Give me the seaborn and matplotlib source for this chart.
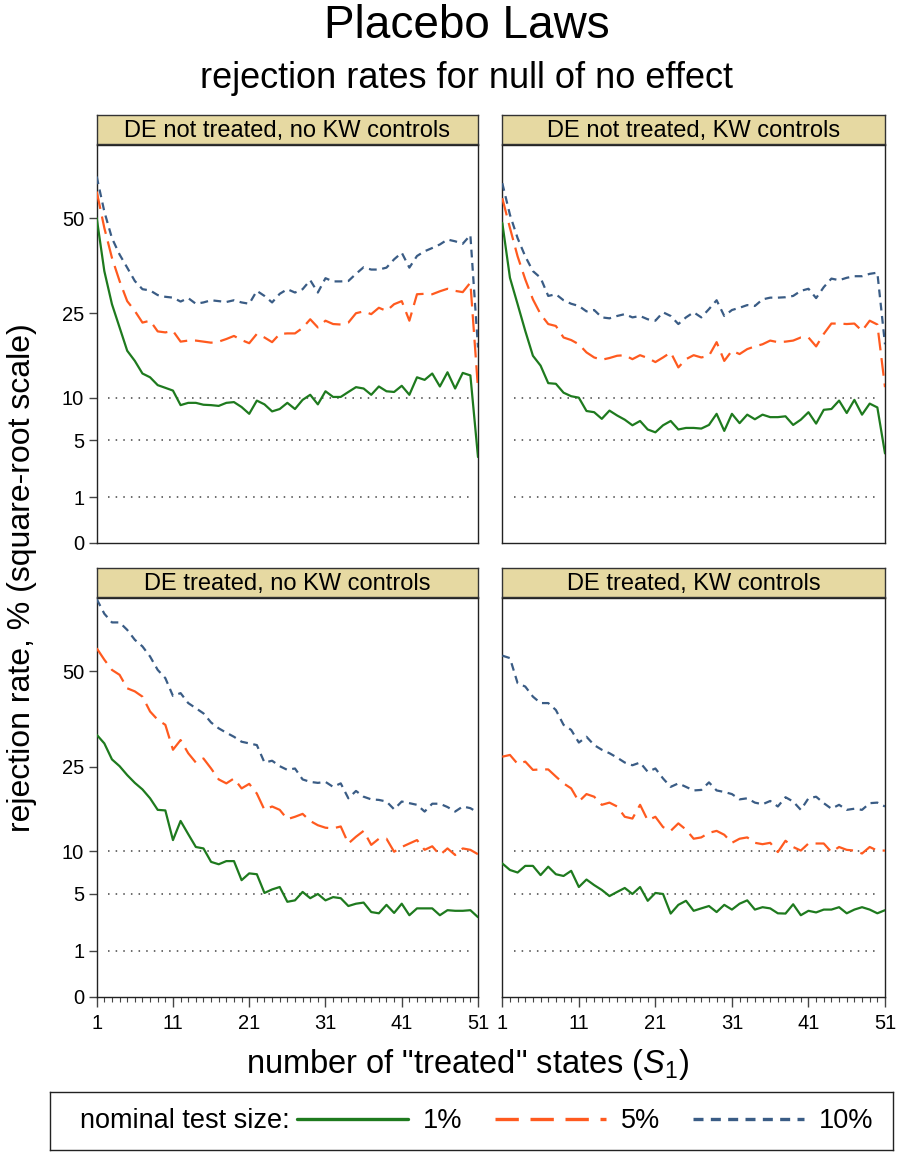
import numpy as np
import pandas as pd
import matplotlib
matplotlib.use("Agg")
import matplotlib.pyplot as plt
from matplotlib.lines import Line2D
import seaborn as sns

# ---------------- data ----------------
states = list(range(1, 52))
sizes = ["1%", "5%", "10%"]
panel_titles = ["DE not treated, no KW controls", "DE not treated, KW controls",
                "DE treated, no KW controls", "DE treated, KW controls"]
y_ticks = [0, 1, 5, 10, 25, 50]
x_ticks = [1, 11, 21, 31, 41, 51]
nominal_levels = [1, 5, 10]

nt_nokw_1 = [50, 35, 27, 22, 17.5, 15.7, 13.6, 13, 11.8, 11.4, 11, 9.0, 9.3, 9.3, 9.05, 9.0, 8.9, 9.3, 9.4, 8.75,
             7.9, 9.6, 9.1, 8.2, 8.5, 9.3, 8.5, 9.7, 10.4, 9.1, 10.9, 10.1, 10.1, 10.8, 11.5, 11.3, 10.4, 11.6, 10.9, 10.8,
             11.7, 10.4, 13.0, 12.6, 13.6, 11.6, 13.8, 11.3, 13.7, 13.3, 3.5]
nt_nokw_5 = [58.5, 47, 38.5, 32.5, 27.7, 25.5, 23, 23.4, 21.2, 21, 21.3, 19.2, 19.4, 19.4, 19.2, 19.0, 19.2, 19.7, 20.3, 19.5,
             18.9, 20.7, 20.0, 19.1, 20.7, 20.8, 20.8, 21.9, 23.7, 22, 23.4, 22.7, 22.6, 23, 25.0, 25.4, 24.8, 26.2, 25.5, 27.0,
             27.7, 23.4, 29.3, 29.4, 29.3, 30, 30.6, 30.1, 29.8, 32.1, 11.3]
nt_nokw_10 = [63.6, 52, 44, 39.4, 35.9, 32.5, 30.5, 30.2, 29.1, 28.7, 28.5, 27.6, 28.4, 27.1, 27.4, 27.9, 27.7, 27.5, 27.9, 27.4,
              27.1, 30.1, 28.9, 27.4, 29.4, 30.5, 29.7, 30.5, 32.7, 29.7, 33.2, 32.4, 32.4, 32.5, 34.3, 36.0, 35.4, 35.4, 35.9, 38.1,
              39.9, 35.9, 39.0, 40.3, 41.2, 42.2, 43.6, 43.1, 42.4, 44.9, 18.1]

nt_kw_1 = [48.5, 33.3, 27, 21.3, 16.6, 14.9, 12.1, 12.0, 10.7, 10.2, 10.0, 8.25, 8.1, 7.3, 8.3, 7.7, 7.2, 6.56, 7.05, 6.1,
           5.8, 6.56, 7.05, 6.1, 6.27, 6.27, 6.2, 6.6, 7.9, 5.95, 7.9, 6.8, 7.8, 7.25, 7.8, 7.5, 7.5, 7.6, 6.6, 7.2,
           8.1, 6.75, 8.4, 8.5, 9.6, 8.0, 9.7, 7.8, 9.2, 8.7, 3.8]
nt_kw_5 = [56.3, 47, 38.9, 32.9, 28.1, 24.8, 22.7, 22.3, 20.0, 19.5, 18.7, 17.2, 16.3, 15.9, 16.2, 16.6, 16.7, 16.0, 16.7, 16.2,
           15.5, 16.3, 17.2, 14.6, 16.0, 16.7, 16.3, 16.6, 19.1, 15.7, 17.5, 16.9, 17.8, 18.3, 18.7, 19.4, 19.1, 19.2, 19.4, 20.0,
           20.0, 18.3, 20.7, 22.8, 22.8, 22.7, 22.8, 21.3, 23.4, 22.6, 11.5]
nt_kw_10 = [61.3, 51, 44, 38.9, 35, 33.3, 28.9, 29.3, 27.9, 27.1, 26.6, 25.4, 25.7, 24.1, 23.9, 24.4, 24.8, 24.1, 24.4, 23.7,
            23.4, 25.2, 24.4, 22.7, 24.1, 25.2, 24.1, 25.9, 27.9, 24.4, 25.7, 26.2, 26.8, 26.6, 28.1, 28.5, 28.5, 28.6, 28.9, 30.1,
            30.6, 28.4, 31.0, 33.1, 32.7, 33.3, 33.7, 33.7, 34.3, 34.6, 18.7]

t_nokw_1 = [32.4, 30.3, 26.6, 25.1, 23.2, 21.6, 20.3, 18.6, 16.5, 16.4, 11.6, 14.6, 12.5, 10.6, 10.4, 8.6, 8.3, 8.7, 8.7, 6.43,
            7.2, 7.1, 5.1, 5.45, 5.7, 4.27, 4.4, 5.2, 4.6, 5.0, 4.4, 4.7, 4.6, 3.9, 4.1, 4.2, 3.4, 3.3, 4.0, 3.33,
            4.1, 3.15, 3.7, 3.7, 3.7, 3.15, 3.55, 3.5, 3.5, 3.55, 3.0]
t_nokw_5 = [57.3, 53.6, 50.4, 48.9, 44.9, 44, 42.5, 38.4, 36.2, 34.9, 28.8, 31.1, 28.0, 25.9, 26.8, 24.6, 22.3, 21.5, 22.5, 20.5,
            21.4, 19.5, 16.5, 17.1, 16.5, 14.9, 15.3, 15.8, 14.6, 13.9, 13.5, 13.4, 13.7, 11.1, 12.1, 13.0, 10.9, 11.8, 11.8, 9.94,
            10.6, 11.1, 11.6, 10.2, 10.7, 9.5, 10.4, 9.5, 10.4, 10.2, 9.6]
t_nokw_10 = [74.6, 69.2, 66.1, 66.1, 63.5, 60.1, 57.9, 54.6, 50.4, 47.9, 42.7, 43.5, 40.7, 39.3, 37.9, 35.5, 34.0, 32.9, 31.9, 30.7,
             30.3, 29.9, 25.9, 26.3, 25.1, 24.3, 24.6, 22.3, 21.8, 21.6, 21.8, 20.8, 21.5, 18.6, 20.0, 18.9, 18.4, 18.3, 18.0, 16.6,
             18.0, 17.7, 17.4, 16.2, 17.6, 17.6, 17.0, 16.2, 17.1, 16.8, 16.0]

t_kw_1 = [8.4, 7.6, 7.3, 8.1, 8.1, 7.0, 8.0, 7.1, 6.9, 7.5, 5.7, 6.5, 5.9, 5.4, 4.8, 5.2, 5.6, 5.0, 5.7, 4.36,
          5.1, 5.0, 3.28, 4.0, 4.36, 3.5, 3.7, 3.9, 3.4, 4.0, 3.6, 4.1, 4.4, 3.6, 3.8, 3.7, 3.3, 3.28, 4.05, 3.15,
          3.5, 3.37, 3.6, 3.6, 3.8, 3.3, 3.6, 3.8, 3.6, 3.3, 3.55]
t_kw_5 = [27.2, 27.6, 25.6, 26.1, 24.3, 24.4, 24.4, 22.9, 21.5, 20.5, 18.0, 19.4, 18.9, 17.4, 17.8, 17.1, 15.3, 15.0, 17.4, 14.7,
          15.3, 13.6, 13.0, 14.2, 13.2, 11.8, 12.0, 12.7, 13.0, 12.4, 11.2, 11.8, 12.0, 11.2, 11.0, 11.2, 9.9, 11.5, 10.6, 10.1,
          11.1, 11.1, 11.1, 9.9, 10.6, 10.2, 10.1, 9.7, 10.6, 10.1, 10.1]
t_kw_10 = [54.9, 54.1, 46.4, 45.4, 42.5, 40.7, 40.7, 38.8, 34.9, 33.6, 30.5, 31.9, 29.9, 28.8, 28.0, 27.0, 25.9, 25.3, 25.9, 23.9,
           24.6, 22.5, 20.8, 21.5, 20.8, 20.1, 20.2, 21.7, 20.1, 19.8, 19.4, 18.4, 18.6, 17.8, 17.5, 18.1, 17.1, 18.8, 18.0, 16.5,
           18.6, 18.9, 17.7, 16.7, 17.4, 16.5, 16.7, 16.5, 17.7, 17.8, 17.1]

panel_series = [
    (nt_nokw_1, nt_nokw_5, nt_nokw_10),
    (nt_kw_1, nt_kw_5, nt_kw_10),
    (t_nokw_1, t_nokw_5, t_nokw_10),
    (t_kw_1, t_kw_5, t_kw_10),
]

rows = []
for title, series in zip(panel_titles, panel_series):
    for size, vals in zip(sizes, series):
        for s, v in zip(states, vals):
            rows.append({"panel": title, "size": size, "states": s, "rate": v})
df = pd.DataFrame(rows)

# ---------------- style ----------------
sns.set_style("white")
plt.rcParams["font.family"] = ["Liberation Sans", "DejaVu Sans"]
plt.rcParams["mathtext.fontset"] = "custom"
plt.rcParams["mathtext.it"] = "Liberation Sans:italic"
plt.rcParams["mathtext.rm"] = "Liberation Sans"
plt.rcParams["text.color"] = "black"
plt.rcParams["xtick.color"] = "black"
plt.rcParams["ytick.color"] = "black"
plt.rcParams["axes.labelcolor"] = "black"

palette = {"1%": "#1E7A1E", "5%": "#FF5A1F", "10%": "#3A5C85"}
dashes = {"1%": "", "5%": (8, 3.5), "10%": (3.5, 2.5)}
strip_color = "#E6D9A2"

W, H = 898, 1153
fig = plt.figure(figsize=(W / 100, H / 100), dpi=100)

def fx(px):
    return px / W

def fy(py):
    return 1 - py / H

col_x = [(96.7, 478.0), (502.3, 885.0)]
row_y = [(145.0, 543.0), (598.0, 997.0)]
strip_h = 29.0

sqrt_fwd = lambda v: np.sqrt(np.clip(v, 0, None))
sqrt_inv = lambda v: np.asarray(v) ** 2

for i, title in enumerate(panel_titles):
    r, c = divmod(i, 2)
    x0, x1 = col_x[c]
    y0, y1 = row_y[r]
    ax = fig.add_axes([fx(x0), fy(y1), fx(x1) - fx(x0), (y1 - y0) / H])
    sub = df[df["panel"] == title]
    ax.set_yscale("function", functions=(sqrt_fwd, sqrt_inv))
    for lvl in nominal_levels:
        ax.axhline(lvl, xmin=0.03, xmax=0.985, color="#444444", lw=1.1,
                   ls=(0, (1, 4)), zorder=1)
    sns.lineplot(data=sub, x="states", y="rate", hue="size", style="size",
                 hue_order=sizes, style_order=sizes, palette=palette,
                 dashes=dashes, linewidth=1.6, ax=ax, legend=False, zorder=3)
    ax.set_xlim(1, 51)
    ax.set_ylim(0, 75)
    ax.set_xlabel("")
    ax.set_ylabel("")
    for sp in ax.spines.values():
        sp.set_visible(True)
        sp.set_color("#222222")
        sp.set_linewidth(1.0)
    ax.set_yticks(y_ticks)
    ax.set_xticks(x_ticks)
    ax.set_xticks(states, minor=True)
    if c == 0:
        ax.set_yticklabels([str(t) for t in y_ticks], fontsize=14.5)
        ax.tick_params(axis="y", which="major", left=True, length=6, width=1,
                       color="#444444", pad=3)
    else:
        ax.set_yticklabels([])
        ax.tick_params(axis="y", left=False)
    if r == 1:
        ax.set_xticklabels([str(t) for t in x_ticks], fontsize=14.5)
        ax.tick_params(axis="x", which="major", bottom=True, length=7, width=1,
                       color="#444444", pad=5)
        ax.tick_params(axis="x", which="minor", bottom=True, length=3.5, width=0.8,
                       color="#444444")
    else:
        ax.set_xticklabels([])
        ax.tick_params(axis="x", which="both", bottom=False)
    ax.grid(False)

    # strip header
    sax = fig.add_axes([fx(x0), fy(y0 - 1), fx(x1) - fx(x0), strip_h / H])
    sax.set_facecolor(strip_color)
    sax.set_xticks([])
    sax.set_yticks([])
    for sp in sax.spines.values():
        sp.set_visible(True)
        sp.set_color("#333333")
        sp.set_linewidth(1.0)
    sax.text(0.5, 0.45, title, ha="center", va="center", fontsize=17,
             transform=sax.transAxes)

# titles
fig.text(fx(467), fy(26), "Placebo Laws", ha="center", va="center", fontsize=33)
fig.text(fx(467), fy(78), "rejection rates for null of no effect", ha="center",
         va="center", fontsize=26)
fig.text(fx(22), fy(578), "rejection rate, % (square-root scale)", rotation=90,
         ha="center", va="center", fontsize=23)
fig.text(fx(467), fy(1064), 'number of "treated" states ($\\mathit{S}_\\mathit{1}$)',
         ha="center", va="center", fontsize=23.5)

# legend box
lax = fig.add_axes([fx(50), fy(1150), fx(893) - fx(50), 58 / H])
lax.set_xticks([])
lax.set_yticks([])
lax.set_facecolor("white")
for sp in lax.spines.values():
    sp.set_visible(True)
    sp.set_color("#222222")
    sp.set_linewidth(1.0)
lax.text((80 - 50) / 843, 0.5, "nominal test size:", ha="left", va="center",
         fontsize=19.5, transform=lax.transAxes)
handles = [Line2D([], [], color=palette[s], lw=2.4, ls="-") for s in sizes]
handles[1].set_dashes((7, 3.5))
handles[2].set_dashes((3, 2.2))
lax.legend(handles, sizes, ncol=3, frameon=False, loc="center left",
           bbox_to_anchor=((297 - 50) / 843, 0.5), borderaxespad=0, borderpad=0,
           handlelength=4.1, handletextpad=0.55, columnspacing=1.2, fontsize=19.5)

fig.savefig("out.png", dpi=100)
